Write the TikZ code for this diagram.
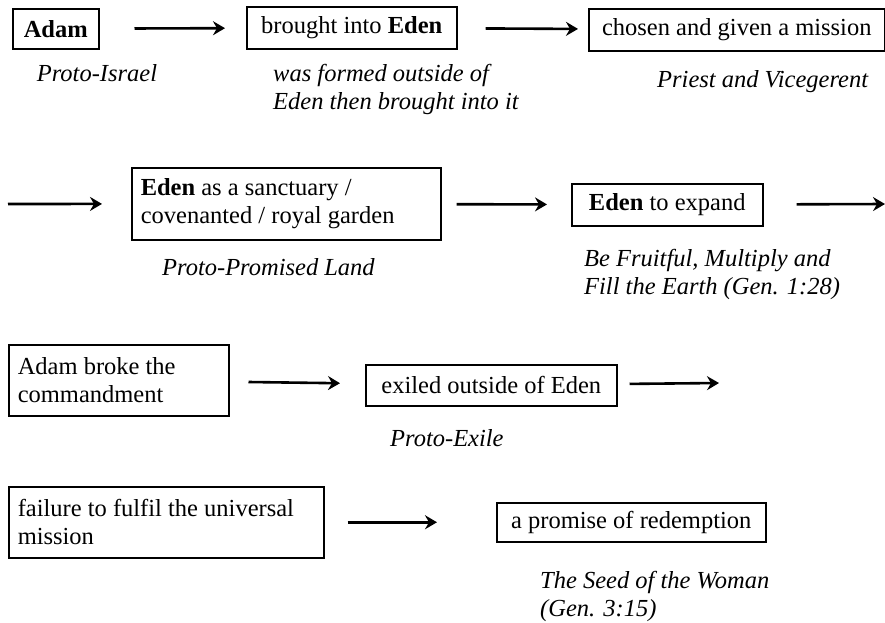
\documentclass[tikz,border=0pt]{standalone}
\usepackage{fontspec}
\setmainfont{Liberation Serif}[ItalicFont={Liberation Serif Italic}, BoldFont={Liberation Serif Bold}]
\usetikzlibrary{arrows.meta}
\tikzset{
  stepbox/.style={draw, line width=1.5pt, inner xsep=9pt, inner ysep=0pt,
    anchor=north west, font=\fontsize{24.5}{28}\selectfont},
  note/.style={inner sep=0pt, align=flush left, font=\fontsize{24.5}{28}\selectfont\itshape},
  flow/.style={line width=2.6pt, -{Stealth[length=12pt,width=14pt,inset=4pt]}}
}
\begin{document}
\begin{tikzpicture}[x=1pt, y=-1pt]
    \useasboundingbox (0,0) rectangle (885,622);

    % Row 1: Adam brought into Eden
    \node[stepbox, minimum width=86pt, minimum height=40pt] (adam) at (12,8) {\textbf{Adam}};
    \node[stepbox, minimum width=210pt, minimum height=42pt] (brought) at (246,6) {brought into \textbf{Eden}};
    \node[stepbox, minimum width=296pt, minimum height=42pt] (chosen) at (588,8) {chosen and given a mission};
    \node[note, anchor=base] (israel) at (97,81) {Proto-Israel};
    \node[note, anchor=north west] (formed) at (273,64) {was formed outside of\\Eden then brought into it};
    \node[note, anchor=base west] (priest) at (657,87) {Priest and Vicegerent};
    \draw[flow, shorten <=35pt, shorten >=21pt] (adam) -- (brought);
    \draw[flow, shorten <=28pt, shorten >=10pt] (brought) -- (chosen);

    % Row 2: Eden as sanctuary, to expand
    \coordinate (inA) at (8,204);
    \coordinate (outA) at (885,204);
    \node[stepbox, minimum width=309pt, minimum height=72pt, text width=291pt, align=flush left] (sanct) at (131,167)
        {\textbf{Eden} as a sanctuary /\\covenanted / royal garden};
    \node[stepbox, minimum width=191pt, minimum height=42pt] (expand) at (571,183) {\textbf{Eden} to expand};
    \node[note, anchor=base west] (land) at (162,275) {Proto-Promised Land};
    \node[note, anchor=north west] (fruit) at (584,249) {Be Fruitful, Multiply and\\Fill the Earth (Gen. 1:28)};
    \draw[flow, shorten >=29pt] (inA) -- (sanct);
    \draw[flow, shorten <=15pt, shorten >=24pt] (sanct) -- (expand);
    \draw[flow, shorten <=33pt] (expand) -- (outA);

    % Row 3: the fall and exile
    \coordinate (outB) at (719,383);
    \node[stepbox, minimum width=220pt, minimum height=71pt, text width=202pt, align=flush left] (broke) at (8,344)
        {Adam broke the\\commandment};
    \node[stepbox, minimum width=251pt, minimum height=41pt] (exiled) at (365,364) {exiled outside of Eden};
    \node[note, anchor=base west] (exile) at (390,446) {Proto-Exile};
    \draw[flow, shorten <=19pt, shorten >=25pt] (broke) -- (exiled);
    \draw[flow, shorten <=12pt] (exiled) -- (outB);

    % Row 4: failure and promise
    \node[stepbox, minimum width=315pt, minimum height=71pt, text width=297pt, align=flush left] (failure) at (8,486)
        {failure to fulfil the universal\\mission};
    \node[stepbox, minimum width=269pt, minimum height=39pt] (promise) at (496,502) {a promise of redemption};
    \node[note, anchor=north west] (seed) at (540,571) {The Seed of the Woman\\(Gen. 3:15)};
    \draw[flow, shorten <=23pt, shorten >=59pt] (failure) -- (promise);
\end{tikzpicture}
\end{document}
